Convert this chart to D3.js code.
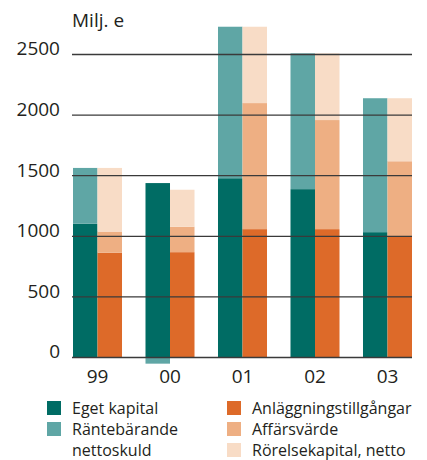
<!DOCTYPE html>
<html>
<head>
<meta charset="utf-8">
<script src="https://cdn.jsdelivr.net/npm/d3@7"></script>
<style>
  body { margin: 0; background: #fff; }
  text { font-family: "Open Sans", sans-serif; fill: #231f20; }
</style>
</head>
<body>
<div id="chart"></div>
<script>
// data (Milj. e)
var years = ["99", "00", "01", "02", "03"];
var egetKapital = [1100, 1435, 1475, 1385, 1030];
var rantebarande = [460, -55, 1250, 1120, 1105];
var anlaggning = [860, 865, 1055, 1055, 995];
var affarsvarde = [175, 210, 1040, 900, 620];
var rorelsekapital = [525, 305, 630, 550, 520];
var yTicks = [0, 500, 1000, 1500, 2000, 2500];

var colors = {
  eget: "#006c64",
  ranta: "#5fa6a5",
  anl: "#dd6a29",
  aff: "#eeaf83",
  ror: "#f8dcc6"
};

var svg = d3.select("#chart")
  .append("svg")
  .attr("width", 427)
  .attr("height", 460);

var xScale = d3.scaleBand()
  .domain(years)
  .range([73, 412])
  .paddingInner(0.324)
  .paddingOuter(0);

var yScale = d3.scaleLinear()
  .domain([0, 2500])
  .range([357, 54]);

// table for the stacks
var table = years.map(function (y, i) {
  return {
    year: y,
    eget: egetKapital[i],
    ranta: rantebarande[i],
    anl: anlaggning[i],
    aff: affarsvarde[i],
    ror: rorelsekapital[i]
  };
});

var stackLeft = d3.stack().keys(["eget", "ranta"]).offset(d3.stackOffsetDiverging)(table);
var stackRight = d3.stack().keys(["anl", "aff", "ror"]).offset(d3.stackOffsetDiverging)(table);

var half = xScale.bandwidth() / 2;

function drawStack(series, offset) {
  svg.append("g")
    .selectAll("g")
    .data(series)
    .enter()
    .append("g")
    .attr("fill", function (d) { return colors[d.key]; })
    .selectAll("rect")
    .data(function (d) { return d; })
    .enter()
    .append("rect")
    .attr("x", function (d) { return xScale(d.data.year) + offset; })
    .attr("width", half)
    .attr("y", function (d) { return yScale(Math.max(d[0], d[1])); })
    .attr("height", function (d) { return Math.abs(yScale(d[0]) - yScale(d[1])); });
}

drawStack(stackLeft, 0);
drawStack(stackRight, half);

// y axis with gridlines on top of bars
var yAxis = svg.append("g")
  .attr("transform", "translate(72,0)")
  .call(d3.axisLeft(yScale).tickValues(yTicks).tickSize(-340).tickPadding(12).tickFormat(d3.format("d")));
yAxis.select(".domain").remove();
yAxis.selectAll("line").attr("stroke", "#3a3a3a").attr("stroke-width", 1.3);
yAxis.selectAll("text")
  .attr("font-size", "19px")
  .attr("dy", "0.05em")
  .attr("font-family", "Open Sans, sans-serif")
  .attr("fill", "#231f20");

// x labels
svg.append("g")
  .selectAll("text")
  .data(years)
  .enter()
  .append("text")
  .attr("x", function (d) { return xScale(d) + xScale.bandwidth() / 2; })
  .attr("y", 383)
  .attr("text-anchor", "middle")
  .attr("font-size", "19px")
  .text(function (d) { return d; });

// unit label
svg.append("text")
  .attr("x", 72)
  .attr("y", 27)
  .attr("font-size", "19px")
  .text("Milj. e");

// legend
var legendItems = [
  {key: "eget", lines: ["Eget kapital"], col: 0, row: 0},
  {key: "ranta", lines: ["Räntebärande", "nettoskuld"], col: 0, row: 1},
  {key: "anl", lines: ["Anläggningstillgångar"], col: 1, row: 0},
  {key: "aff", lines: ["Affärsvärde"], col: 1, row: 1},
  {key: "ror", lines: ["Rörelsekapital, netto"], col: 1, row: 2}
];
var legend = svg.append("g");
legendItems.forEach(function (item) {
  var lx = item.col === 0 ? 47 : 227;
  var ly = 414 + item.row * 21;
  legend.append("rect")
    .attr("x", lx)
    .attr("y", ly - 13)
    .attr("width", 14)
    .attr("height", 14)
    .attr("fill", colors[item.key]);
  item.lines.forEach(function (t, j) {
    legend.append("text")
      .attr("x", lx + 25)
      .attr("y", ly + j * 21)
      .attr("font-size", "16px")
      .text(t);
  });
});
</script>
</body>
</html>
